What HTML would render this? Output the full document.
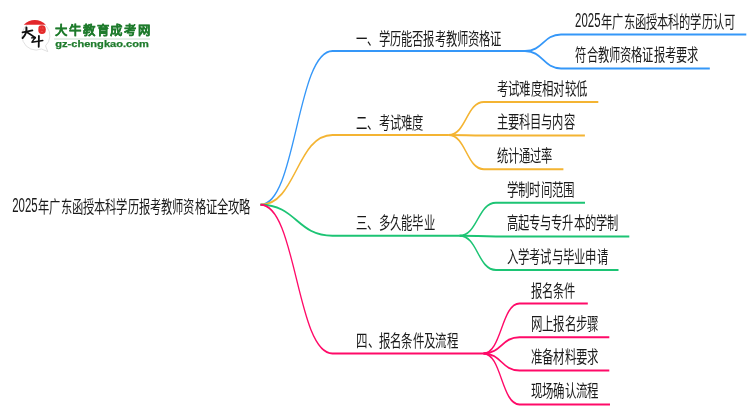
<!DOCTYPE html>
<html lang="zh-CN"><head><meta charset="utf-8">
<style>html,body{margin:0;padding:0;background:#fff;} svg{display:block;filter:opacity(1);font-family:"Liberation Sans",sans-serif;}</style>
</head><body>
<svg width="750" height="410" viewBox="0 0 750 410">
<rect width="750" height="410" fill="#fff"/>

<g>
  <path d="M23.2,41.5 A14,14 0 1 1 45.5,45.8 L47.8,51.6 L41.5,49 A14,14 0 0 1 23.2,41.5" fill="#fff" stroke="#d4d4d4" stroke-width="0.7"/>
  <path d="M23.8,24.8 A14.8,14.8 0 0 1 45.8,24.8 Z" fill="#e3262a"/>
  <path d="M38.5,27.2 Q38.8,25.2 42,25.2 Q45.8,25.3 45.8,29.5 Q45.8,34.1 42,34.1 Q38.2,34.1 38.3,30 Z" fill="#e42a2a"/>
  <path d="M40.3,28 L41.3,28.7 M42.7,27.3 L43,29.3 M40.9,31.3 L42.9,31.6" stroke="#f28c8c" stroke-width="0.4"/>
  <path d="M22.5,32.4 Q28,31.6 32.4,30.4" stroke="#111" stroke-width="1.7" fill="none" stroke-linecap="round"/>
  <path d="M26.4,27.5 Q27.2,33.5 22.6,38" stroke="#111" stroke-width="2.0" fill="none" stroke-linecap="round"/>
  <path d="M27,32.3 Q31.5,35 35.2,37.8" stroke="#111" stroke-width="1.8" fill="none" stroke-linecap="round"/>
  <path d="M31.6,37.9 L35.2,37.5 L31.9,42.2 L42.8,40.5" stroke="#111" stroke-width="1.4" fill="none" stroke-linecap="round" stroke-linejoin="round"/>
  <path d="M38.9,36 Q38.9,41 38.7,46.8" stroke="#111" stroke-width="1.8" fill="none" stroke-linecap="round"/>
</g>
<text x="54.8" y="34.6" font-size="12.4" font-weight="bold" fill="#1e7b2c" stroke="#1e7b2c" stroke-width="0.3" textLength="95.5" lengthAdjust="spacing">大牛教育成考网</text>
<rect x="54" y="38.5" width="96" height="1" fill="#cadfcd"/>
<text x="55.3" y="47.2" font-size="9.1" font-weight="bold" fill="#1e7b2c" stroke="#1e7b2c" stroke-width="0.25" textLength="93.5" lengthAdjust="spacingAndGlyphs">gz-chengkao.com</text>

<text x="12.20" y="211.90" font-size="20.0" fill="#1a1a1a" textLength="25.40" lengthAdjust="spacingAndGlyphs">2025</text>
<text x="38.30" y="212.70" font-size="17.2" fill="#1a1a1a" textLength="212.04" lengthAdjust="spacingAndGlyphs">年广东函授本科学历报考教师资格证全攻略</text>
<path d="M413.49,204.8 C470.63,204.8 470.63,51.0 527.78,51.0 L833.33,51.0" stroke="#3597f8" stroke-width="2" fill="none" transform="scale(0.63,1)"/>
<text x="356.20" y="44.77" font-size="17.2" fill="#1a1a1a" textLength="145.48" lengthAdjust="spacingAndGlyphs">一、学历能否报考教师资格证</text>
<path d="M833.33,51.0 C861.90,51.0 861.90,34.6 890.48,34.6 L1184.60,34.6" stroke="#3597f8" stroke-width="2" fill="none" transform="scale(0.63,1)"/>
<text x="575.10" y="26.82" font-size="20.0" fill="#1a1a1a" textLength="25.40" lengthAdjust="spacingAndGlyphs">2025</text>
<text x="601.20" y="27.62" font-size="17.2" fill="#1a1a1a" textLength="133.92" lengthAdjust="spacingAndGlyphs">年广东函授本科的学历认可</text>
<path d="M833.33,51.0 C861.90,51.0 861.90,68.4 890.48,68.4 L1126.67,68.4" stroke="#3597f8" stroke-width="2" fill="none" transform="scale(0.63,1)"/>
<text x="575.40" y="60.89" font-size="17.2" fill="#1a1a1a" textLength="122.76" lengthAdjust="spacingAndGlyphs">符合教师资格证报考要求</text>
<path d="M413.49,204.8 C470.63,204.8 470.63,135.0 527.78,135.0 L711.90,135.0" stroke="#f4b432" stroke-width="2" fill="none" transform="scale(0.63,1)"/>
<text x="356.20" y="128.54" font-size="17.2" fill="#1a1a1a" textLength="66.96" lengthAdjust="spacingAndGlyphs">二、考试难度</text>
<path d="M711.90,135.0 C740.08,135.0 740.08,102.0 768.25,102.0 L949.68,102.0" stroke="#f4b432" stroke-width="2" fill="none" transform="scale(0.63,1)"/>
<text x="496.70" y="94.77" font-size="17.2" fill="#1a1a1a" textLength="90.48" lengthAdjust="spacingAndGlyphs">考试难度相对较低</text>
<path d="M711.90,135.0 C740.08,135.0 740.08,135.5 768.25,135.5 L928.41,135.5" stroke="#f4b432" stroke-width="2" fill="none" transform="scale(0.63,1)"/>
<text x="496.70" y="127.89" font-size="17.2" fill="#1a1a1a" textLength="78.12" lengthAdjust="spacingAndGlyphs">主要科目与内容</text>
<path d="M711.90,135.0 C740.08,135.0 740.08,169.2 768.25,169.2 L894.29,169.2" stroke="#f4b432" stroke-width="2" fill="none" transform="scale(0.63,1)"/>
<text x="496.70" y="161.94" font-size="17.2" fill="#1a1a1a" textLength="55.80" lengthAdjust="spacingAndGlyphs">统计通过率</text>
<path d="M413.49,204.8 C470.63,204.8 470.63,235.7 527.78,235.7 L729.37,235.7" stroke="#1cc474" stroke-width="2" fill="none" transform="scale(0.63,1)"/>
<text x="356.20" y="229.36" font-size="17.2" fill="#1a1a1a" textLength="78.72" lengthAdjust="spacingAndGlyphs">三、多久能毕业</text>
<path d="M729.37,235.7 C758.33,235.7 758.33,202.7 787.30,202.7 L928.57,202.7" stroke="#1cc474" stroke-width="2" fill="none" transform="scale(0.63,1)"/>
<text x="506.70" y="195.69" font-size="17.2" fill="#1a1a1a" textLength="68.16" lengthAdjust="spacingAndGlyphs">学制时间范围</text>
<path d="M729.37,235.7 C758.33,235.7 758.33,236.5 787.30,236.5 L998.89,236.5" stroke="#1cc474" stroke-width="2" fill="none" transform="scale(0.63,1)"/>
<text x="506.70" y="229.14" font-size="17.2" fill="#1a1a1a" textLength="111.60" lengthAdjust="spacingAndGlyphs">高起专与专升本的学制</text>
<path d="M729.37,235.7 C758.33,235.7 758.33,270.0 787.30,270.0 L981.75,270.0" stroke="#1cc474" stroke-width="2" fill="none" transform="scale(0.63,1)"/>
<text x="506.70" y="262.89" font-size="17.2" fill="#1a1a1a" textLength="101.24" lengthAdjust="spacingAndGlyphs">入学考试与毕业申请</text>
<path d="M413.49,204.8 C470.63,204.8 470.63,353.4 527.78,353.4 L767.46,353.4" stroke="#ff0a68" stroke-width="2" fill="none" transform="scale(0.63,1)"/>
<text x="356.20" y="347.21" font-size="17.2" fill="#1a1a1a" textLength="101.84" lengthAdjust="spacingAndGlyphs">四、报名条件及流程</text>
<path d="M767.46,353.4 C796.03,353.4 796.03,303.5 824.60,303.5 L933.02,303.5" stroke="#ff0a68" stroke-width="2" fill="none" transform="scale(0.63,1)"/>
<text x="530.70" y="296.54" font-size="17.2" fill="#1a1a1a" textLength="44.64" lengthAdjust="spacingAndGlyphs">报名条件</text>
<path d="M767.46,353.4 C796.03,353.4 796.03,337.2 824.60,337.2 L967.14,337.2" stroke="#ff0a68" stroke-width="2" fill="none" transform="scale(0.63,1)"/>
<text x="530.70" y="329.94" font-size="17.2" fill="#1a1a1a" textLength="67.96" lengthAdjust="spacingAndGlyphs">网上报名步骤</text>
<path d="M767.46,353.4 C796.03,353.4 796.03,370.6 824.60,370.6 L967.14,370.6" stroke="#ff0a68" stroke-width="2" fill="none" transform="scale(0.63,1)"/>
<text x="530.70" y="363.49" font-size="17.2" fill="#1a1a1a" textLength="67.96" lengthAdjust="spacingAndGlyphs">准备材料要求</text>
<path d="M767.46,353.4 C796.03,353.4 796.03,404.45 824.60,404.45 L968.25,404.45" stroke="#ff0a68" stroke-width="2" fill="none" transform="scale(0.63,1)"/>
<text x="530.70" y="397.21" font-size="17.2" fill="#1a1a1a" textLength="67.96" lengthAdjust="spacingAndGlyphs">现场确认流程</text>
</svg>
</body></html>
